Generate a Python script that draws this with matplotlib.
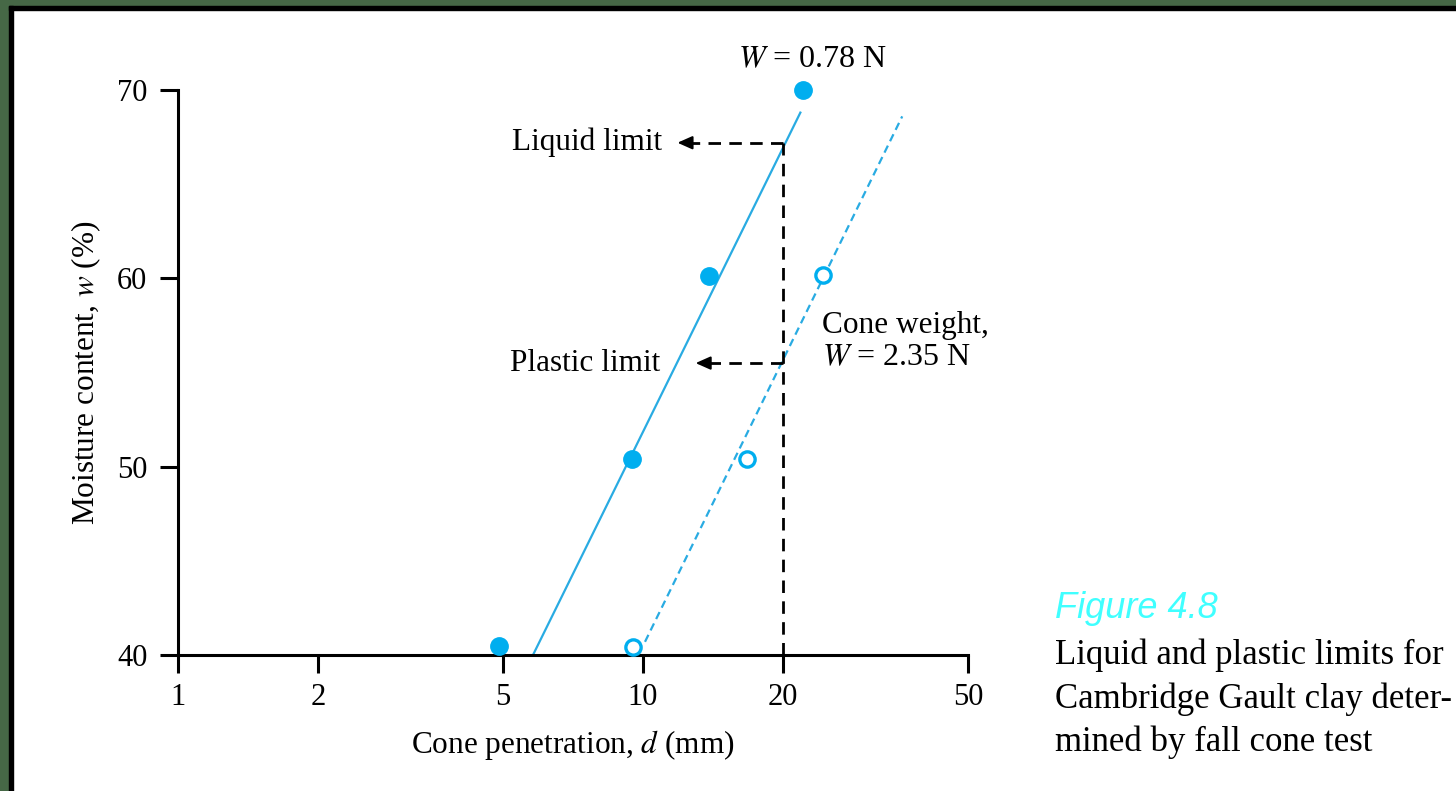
import matplotlib.pyplot as plt
import matplotlib.patches as patches
from matplotlib.ticker import FixedLocator, NullLocator
import numpy as np

plt.rcParams['font.family'] = ['Liberation Serif', 'DejaVu Serif']
plt.rcParams['mathtext.fontset'] = 'stix'

# fall cone test, W = 0.78 N (filled) and W = 2.35 N (open)
d_light = [4.9, 9.45, 13.9, 22.1]
w_light = [40.5, 50.4, 60.1, 70.0]
d_heavy = [9.5, 16.7, 24.4]
w_heavy = [40.4, 50.4, 60.2]

# drawn best-fit lines (end points)
fit_light_d = [5.8, 21.8]
fit_light_w = [40.0, 68.8]
fit_heavy_d = [10.1, 36.1]
fit_heavy_w = [40.7, 68.6]

d_ref = 20
liquid_limit = 67.2
plastic_limit = 55.5

xticks = [1, 2, 5, 10, 20, 50]
yticks = [40, 50, 60, 70]

blue = '#00aeef'
lineblue = '#29abe2'

fig = plt.figure(figsize=(14.56, 7.91), dpi=100)
fig.patch.set_facecolor('white')

# page border (green strip + black rule, left and top only)
fig.patches.append(patches.Rectangle((0, 0), 9 / 1456, 1, transform=fig.transFigure,
                                     color='#466846', zorder=0))
fig.patches.append(patches.Rectangle((0, 1 - 6 / 791), 1, 6 / 791, transform=fig.transFigure,
                                     color='#466846', zorder=0))
fig.patches.append(patches.Rectangle((9 / 1456, 0), 4 / 1456, 1 - 6 / 791, transform=fig.transFigure,
                                     color='black', zorder=0))
fig.patches.append(patches.Rectangle((9 / 1456, 1 - 10 / 791), 1 - 9 / 1456, 4 / 791,
                                     transform=fig.transFigure, color='black', zorder=0))

ax = fig.add_axes([178 / 1456, 136 / 791, 790 / 1456, 565 / 791])
ax.set_xscale('log')
ax.set_xlim(1, 50)
ax.set_ylim(40, 70)

# fit lines
ax.plot(fit_light_d, fit_light_w, color=lineblue, lw=1.6)
ax.plot(fit_heavy_d, fit_heavy_w, color=lineblue, lw=1.6, dashes=(3.5, 2.2))

# points
ax.plot(d_light, w_light, 'o', color=blue, ms=12.5, clip_on=False, zorder=5)
ax.plot(d_heavy, w_heavy, 'o', mfc='white', mec=blue, mew=2.4, ms=11, clip_on=False, zorder=5)

# construction lines at d = 20 mm
ax.plot([d_ref, d_ref], [40, liquid_limit], color='black', lw=2, dashes=(4.5, 3))
ax.plot([d_ref, 12.6], [liquid_limit, liquid_limit], color='black', lw=2, dashes=(4.5, 3))
ax.plot([d_ref, 13.7], [plastic_limit, plastic_limit], color='black', lw=2, dashes=(4.5, 3))
arrow = dict(arrowstyle='-|>,head_length=0.9,head_width=0.4', color='black', lw=1.5)
ax.annotate('', xy=(11.7, liquid_limit), xytext=(12.7, liquid_limit), arrowprops=arrow)
ax.annotate('', xy=(12.8, plastic_limit), xytext=(13.8, plastic_limit), arrowprops=arrow)

ax.text(11.0, liquid_limit, 'Liquid limit', ha='right', va='center', fontsize=22.5)
ax.text(10.9, plastic_limit, 'Plastic limit', ha='right', va='center', fontsize=22.5)
ax.text(23.1, 71.6, '$W$ = 0.78 N', ha='center', va='center', fontsize=23)
ax.text(24.3, 57.5, 'Cone weight,', ha='left', va='center', fontsize=22.5)
ax.text(24.3, 55.8, '$W$ = 2.35 N', ha='left', va='center', fontsize=23)

# axes styling
for s in ['top', 'right']:
    ax.spines[s].set_visible(False)
for s in ['left', 'bottom']:
    ax.spines[s].set_linewidth(2.2)
ax.xaxis.set_major_locator(FixedLocator(xticks))
ax.xaxis.set_minor_locator(NullLocator())
ax.set_xticklabels([str(t) for t in xticks])
ax.set_yticks(yticks)
ax.tick_params(axis='x', direction='out', length=13, width=2.2, pad=7, labelsize=22)
ax.tick_params(axis='y', direction='out', length=13, width=2.2, pad=9, labelsize=22)

ax.set_xlabel('Cone penetration, $d$ (mm)', fontsize=22.5, labelpad=12)
ax.set_ylabel('Moisture content, $w$ (%)', fontsize=22.5, labelpad=10)

# figure caption
fig.text(1055 / 1456, 1 - 608 / 791, 'Figure 4.8', color='#40ffff', fontsize=26,
         family='Liberation Sans', style='italic', va='center', ha='left')
fig.text(1055 / 1456, 1 - 655 / 791, 'Liquid and plastic limits for', fontsize=25,
         va='center', ha='left')
fig.text(1055 / 1456, 1 - 699 / 791, 'Cambridge Gault clay deter-', fontsize=25,
         va='center', ha='left')
fig.text(1055 / 1456, 1 - 742 / 791, 'mined by fall cone test', fontsize=25,
         va='center', ha='left')

fig.savefig('out.png', dpi=100)
